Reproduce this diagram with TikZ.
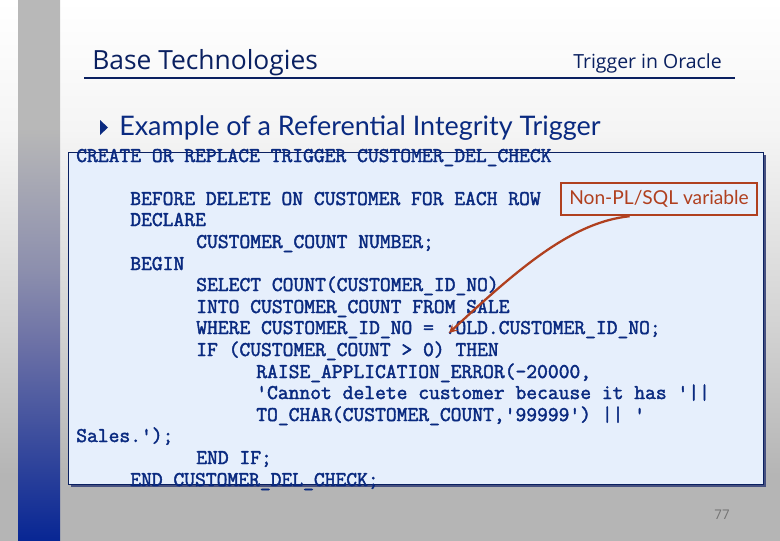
\documentclass[tikz,border=0pt]{standalone}
\usepackage{fontspec}
\setmainfont{Open Sans}
\newfontfamily\handfont{Lato}
\newfontfamily\codefont{Latin Modern Mono}[FakeBold=2]
\usetikzlibrary{arrows}
\definecolor{navy}{HTML}{0A2060}
\definecolor{codeblue}{HTML}{0A2A80}
\definecolor{boxfill}{HTML}{E6EFFC}
\definecolor{boxshadow}{HTML}{465080}
\definecolor{noteline}{HTML}{B0401F}
\pgfdeclareverticalshading{slidebg}{100bp}{rgb(0bp)=(0.71,0.71,0.71); rgb(31bp)=(0.71,0.71,0.71); rgb(44bp)=(0.82,0.82,0.82); rgb(63bp)=(0.96,0.96,0.96); rgb(75bp)=(1,1,1); rgb(100bp)=(1,1,1)}
\pgfdeclareverticalshading{sidebar}{100bp}{rgb(0bp)=(0.03,0.15,0.58); rgb(25bp)=(0.03,0.15,0.58); rgb(43bp)=(0.42,0.44,0.65); rgb(50bp)=(0.55,0.56,0.68); rgb(63bp)=(0.72,0.72,0.72); rgb(100bp)=(0.72,0.72,0.72)}
\tikzstyle{codeline} = [anchor=base west, inner sep=0pt, text=codeblue, font=\codefont\fontsize{15.73pt}{18pt}\selectfont]
\tikzstyle{note} = [rectangle, draw=noteline, line width=1.8pt, text=noteline, minimum width=147pt, minimum height=24pt, inner sep=0pt, font=\handfont\fontsize{14.4pt}{17pt}\selectfont]
\tikzstyle{arrow} = [draw=noteline, line width=1.7pt, ->, >=stealth]

\begin{document}
\begin{tikzpicture}[x=0.75pt, y=-0.75pt]
    \useasboundingbox (0,0) rectangle (780,540);
    \shade [shading=slidebg] (0,0) rectangle (780,540);
    \shade [shading=sidebar] (18,0) rectangle (60,540);

    \node (title) [anchor=base west, inner sep=0pt, text=navy, font=\fontsize{19.8pt}{24pt}\selectfont] at (92,69) {Base Technologies};
    \node (topic) [anchor=base west, inner sep=0pt, text=navy, font=\fontsize{14.6pt}{17pt}\selectfont] at (573,68) {Trigger in Oracle};
    \draw [navy, line width=1.2pt] (84,78) -- (735,78);

    \fill [codeblue] (100,120) -- (108,127.5) -- (100,135) -- cycle;
    \node (heading) [anchor=base west, inner sep=0pt, text=codeblue, font=\handfont\fontsize{20.2pt}{24pt}\selectfont] at (119,135) {Example of a Referential Integrity Trigger};

    \fill [boxshadow] (71,155) rectangle (766,487);
    \draw [navy, fill=boxfill, line width=0.6pt] (68.5,152.5) rectangle (763.5,484.5);

    \node (l1) [codeline] at (76,162) {CREATE OR REPLACE TRIGGER CUSTOMER\_DEL\_CHECK};
    \node (l2) [codeline] at (130,205) {BEFORE DELETE ON CUSTOMER FOR EACH ROW};
    \node (l3) [codeline] at (130,226) {DECLARE};
    \node (l4) [codeline] at (196,248) {CUSTOMER\_COUNT NUMBER;};
    \node (l5) [codeline] at (130,270) {BEGIN};
    \node (l6) [codeline] at (196,291) {SELECT COUNT(CUSTOMER\_ID\_NO)};
    \node (l7) [codeline] at (196,313) {INTO CUSTOMER\_COUNT FROM SALE};
    \node (l8) [codeline] at (196,334) {WHERE CUSTOMER\_ID\_NO = :OLD.CUSTOMER\_ID\_NO;};
    \node (l9) [codeline] at (196,356) {IF (CUSTOMER\_COUNT > 0) THEN};
    \node (l10) [codeline] at (256,378) {RAISE\_APPLICATION\_ERROR(-20000,};
    \node (l11) [codeline] at (256,399) {'Cannot delete customer because it has '||};
    \node (l12) [codeline] at (256,421) {TO\_CHAR(CUSTOMER\_COUNT,'99999') || '};
    \node (l13) [codeline] at (76,442) {Sales.');};
    \node (l14) [codeline] at (196,464) {END IF;};
    \node (l15) [codeline] at (130,486) {END CUSTOMER\_DEL\_CHECK;};

    \node (varnote) [note] at (659,199) {Non-PL/SQL variable};
    \coordinate (oldref) at (449,333);
    \draw [arrow] ([xshift=-22pt]varnote.south) .. controls (575,222) and (525,262) .. (oldref);

    \node (pagenum) [anchor=base, inner sep=0pt, text=black!55, font=\fontsize{10pt}{12pt}\selectfont] at (722,519) {77};
\end{tikzpicture}
\end{document}
